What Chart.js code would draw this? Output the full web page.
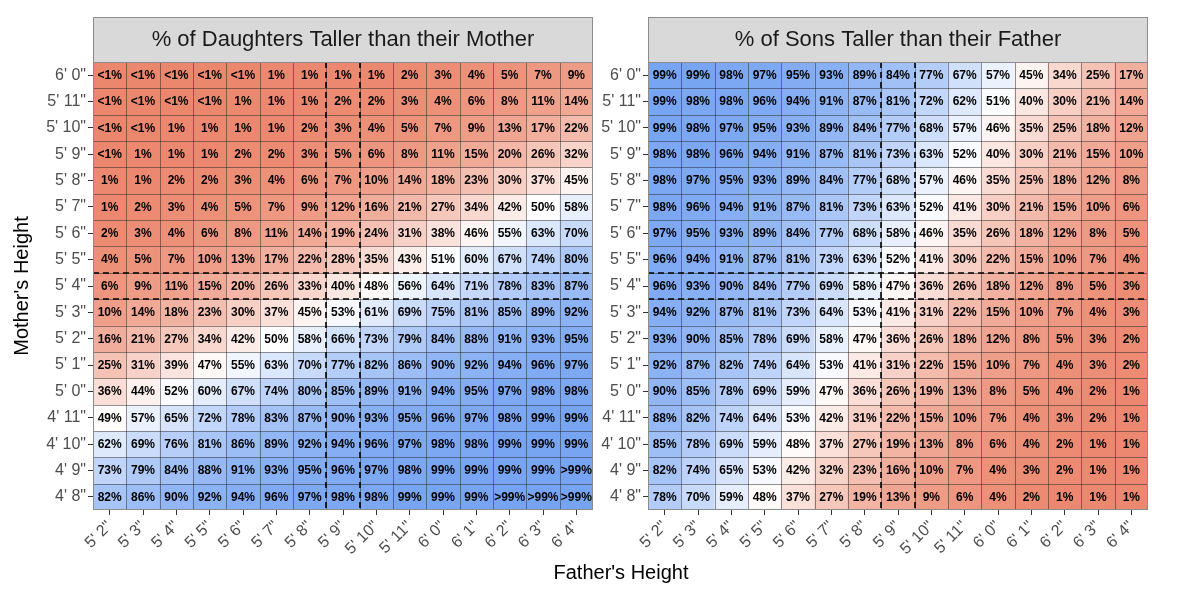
<!DOCTYPE html>
<html><head><meta charset="utf-8">
<script src="https://cdn.jsdelivr.net/npm/chart.js@4.4.1/dist/chart.umd.min.js"></script>
<style>
html,body{margin:0;padding:0;background:#fff;}
#wrap{position:relative;width:1200px;height:602px;overflow:hidden;font-family:'Liberation Sans',Arial,sans-serif;}
canvas{position:absolute;top:0;}
#xtitle{position:absolute;left:0;width:1242px;top:560px;line-height:24px;text-align:center;font-size:20px;color:#000;}
</style></head><body>
<div id="wrap">
<canvas id="c1" width="600" height="602" style="left:0"></canvas>
<canvas id="c2" width="600" height="602" style="left:600px"></canvas>
<div id="xtitle">Father's Height</div>
</div>
<script>
// ---- categories ----
const fatherHeights = ["5' 2\"","5' 3\"","5' 4\"","5' 5\"","5' 6\"","5' 7\"","5' 8\"","5' 9\"","5' 10\"","5' 11\"","6' 0\"","6' 1\"","6' 2\"","6' 3\"","6' 4\""];
// listed top to bottom as in the picture
const motherHeights = ["6' 0\"","5' 11\"","5' 10\"","5' 9\"","5' 8\"","5' 7\"","5' 6\"","5' 5\"","5' 4\"","5' 3\"","5' 2\"","5' 1\"","5' 0\"","4' 11\"","4' 10\"","4' 9\"","4' 8\""];
const avgFather = "5' 9\"";
const avgMother = "5' 4\"";
const panelTitles = ["% of Daughters Taller than their Mother", "% of Sons Taller than their Father"];

// ---- values (%); 0.5 means "<1%", 99.5 means ">99%" ----
const daughtersTaller = [
  [0.5,0.5,0.5,0.5,0.5,1,1,1,1,2,3,4,5,7,9],
  [0.5,0.5,0.5,0.5,1,1,1,2,2,3,4,6,8,11,14],
  [0.5,0.5,1,1,1,1,2,3,4,5,7,9,13,17,22],
  [0.5,1,1,1,2,2,3,5,6,8,11,15,20,26,32],
  [1,1,2,2,3,4,6,7,10,14,18,23,30,37,45],
  [1,2,3,4,5,7,9,12,16,21,27,34,42,50,58],
  [2,3,4,6,8,11,14,19,24,31,38,46,55,63,70],
  [4,5,7,10,13,17,22,28,35,43,51,60,67,74,80],
  [6,9,11,15,20,26,33,40,48,56,64,71,78,83,87],
  [10,14,18,23,30,37,45,53,61,69,75,81,85,89,92],
  [16,21,27,34,42,50,58,66,73,79,84,88,91,93,95],
  [25,31,39,47,55,63,70,77,82,86,90,92,94,96,97],
  [36,44,52,60,67,74,80,85,89,91,94,95,97,98,98],
  [49,57,65,72,78,83,87,90,93,95,96,97,98,99,99],
  [62,69,76,81,86,89,92,94,96,97,98,98,99,99,99],
  [73,79,84,88,91,93,95,96,97,98,99,99,99,99,99.5],
  [82,86,90,92,94,96,97,98,98,99,99,99,99.5,99.5,99.5]
];
const sonsTaller = [
  [99,99,98,97,95,93,89,84,77,67,57,45,34,25,17],
  [99,98,98,96,94,91,87,81,72,62,51,40,30,21,14],
  [99,98,97,95,93,89,84,77,68,57,46,35,25,18,12],
  [98,98,96,94,91,87,81,73,63,52,40,30,21,15,10],
  [98,97,95,93,89,84,77,68,57,46,35,25,18,12,8],
  [98,96,94,91,87,81,73,63,52,41,30,21,15,10,6],
  [97,95,93,89,84,77,68,58,46,35,26,18,12,8,5],
  [96,94,91,87,81,73,63,52,41,30,22,15,10,7,4],
  [96,93,90,84,77,69,58,47,36,26,18,12,8,5,3],
  [94,92,87,81,73,64,53,41,31,22,15,10,7,4,3],
  [93,90,85,78,69,58,47,36,26,18,12,8,5,3,2],
  [92,87,82,74,64,53,41,31,22,15,10,7,4,3,2],
  [90,85,78,69,59,47,36,26,19,13,8,5,4,2,1],
  [88,82,74,64,53,42,31,22,15,10,7,4,3,2,1],
  [85,78,69,59,48,37,27,19,13,8,6,4,2,1,1],
  [82,74,65,53,42,32,23,16,10,7,4,3,2,1,1],
  [78,70,59,48,37,27,19,13,9,6,4,2,1,1,1]
];

// ---- styles ----
const FONT = "'Liberation Sans', Arial, sans-serif";
Chart.defaults.font.family = FONT;
const LOW = [235,134,108], MID = [255,255,255], HIGH = [117,163,242];
function colorFor(v) {
  const t = v / 100;
  let a, b, s;
  if (t < 0.5) { a = LOW; b = MID; s = t / 0.5; } else { a = MID; b = HIGH; s = (t - 0.5) / 0.5; }
  const c = a.map((ai, i) => Math.round(ai + (b[i] - ai) * s));
  return `rgb(${c[0]},${c[1]},${c[2]})`;
}
function fmt(v) {
  if (v < 1) return '<1%';
  if (v > 99) return '>99%';
  return v + '%';
}

const heatPlugin = {
  id: 'heat',
  beforeDraw(chart) {
    const {ctx, chartArea: a} = chart;
    ctx.save();
    ctx.fillStyle = '#D9D9D9';
    ctx.fillRect(a.left, 17, a.right - a.left, a.top - 17);
    ctx.strokeStyle = '#8C8C8C';
    ctx.lineWidth = 1;
    ctx.strokeRect(a.left + 0.5, 17.5, a.right - a.left - 1, a.top - 17);
    ctx.restore();
  },
  afterDraw(chart) {
    const {ctx, chartArea: a, scales: {x, y}} = chart;
    const n = motherHeights.length;
    const nx = fatherHeights.length;
    const step = x.getPixelForValue(1) - x.getPixelForValue(0);
    ctx.save();
    // cell grid
    ctx.strokeStyle = 'rgba(40,40,40,0.5)';
    ctx.lineWidth = 1;
    ctx.beginPath();
    for (let i = 1; i < nx; i++) {
      const px = Math.round(x.getPixelForValue(i) - step / 2) + 0.5;
      ctx.moveTo(px, a.top); ctx.lineTo(px, a.bottom);
    }
    for (let j = 0; j < n - 1; j++) {
      const py = Math.round(y.getPixelForValue(j + 0.5)) + 0.5;
      ctx.moveTo(a.left, py); ctx.lineTo(a.right, py);
    }
    ctx.stroke();
    // values
    ctx.fillStyle = '#000';
    ctx.font = `bold 12px ${FONT}`;
    ctx.textAlign = 'center';
    ctx.textBaseline = 'middle';
    chart.data.datasets.forEach((ds, di) => {
      const meta = chart.getDatasetMeta(di);
      meta.data.forEach((bar, k) => {
        const p = bar.getCenterPoint();
        ctx.fillText(fmt(ds.values[k]), p.x, p.y + 0.5);
      });
    });
    // dashed average lines
    ctx.strokeStyle = '#000';
    ctx.lineWidth = 1.6;
    ctx.setLineDash([6, 4]);
    const fi = fatherHeights.indexOf(avgFather);
    const mi = n - 1 - motherHeights.indexOf(avgMother);
    ctx.beginPath();
    [fi - 0.5, fi + 0.5].forEach(v => {
      const px = Math.round(x.getPixelForValue(fi) + (v - fi) * step);
      ctx.moveTo(px, a.top); ctx.lineTo(px, a.bottom);
    });
    [mi - 0.5, mi + 0.5].forEach(v => {
      const py = Math.round(y.getPixelForValue(v));
      ctx.moveTo(a.left, py); ctx.lineTo(a.right, py);
    });
    ctx.stroke();
    ctx.setLineDash([]);
    // panel border
    ctx.strokeStyle = '#8C8C8C';
    ctx.lineWidth = 1;
    ctx.strokeRect(a.left + 0.5, a.top + 0.5, a.right - a.left - 1, a.bottom - a.top - 1);
    ctx.restore();
  }
};

function makeChart(id, title, rows, yWidth, rightPad, showYTitle) {
  const n = motherHeights.length;
  const datasets = rows.map((row, i) => {
    const yv = n - 1 - i;
    return {
      label: motherHeights[i],
      data: row.map(() => [yv - 0.5, yv + 0.5]),
      values: row,
      backgroundColor: row.map(colorFor),
      borderColor: row.map(colorFor),
      borderWidth: 0,
      borderSkipped: false,
      grouped: false,
      barPercentage: 1,
      categoryPercentage: 1
    };
  });
  return new Chart(document.getElementById(id), {
    type: 'bar',
    data: { labels: fatherHeights, datasets },
    options: {
      responsive: false,
      animation: false,
      events: [],
      layout: { padding: { left: 0, right: rightPad, top: 17, bottom: 0 } },
      plugins: {
        legend: { display: false },
        tooltip: { enabled: false },
        title: {
          display: true, text: title, fullSize: false, color: '#1A1A1A',
          font: { size: 22, weight: 'normal' }, padding: { top: 10, bottom: 8.6 }
        }
      },
      scales: {
        x: {
          type: 'category', offset: true,
          grid: { offset: false, drawOnChartArea: false, drawTicks: true, tickLength: 5, tickColor: '#333', tickWidth: 1 },
          border: { display: false },
          ticks: { color: '#4D4D4D', font: { size: 16 }, minRotation: 45, maxRotation: 45, autoSkip: false, padding: 2 },
          afterFit(s) { s.height = 92; s.paddingLeft = 0; s.paddingRight = 0; }
        },
        y: {
          type: 'linear', min: -0.5, max: n - 0.5,
          afterBuildTicks(s) { s.ticks = motherHeights.map((_, i) => ({ value: i })); },
          grid: { drawOnChartArea: false, drawTicks: true, tickLength: 5, tickColor: '#333', tickWidth: 1 },
          border: { display: false },
          ticks: { color: '#4D4D4D', font: { size: 16 }, autoSkip: false, padding: 2,
                   callback: (v) => motherHeights[n - 1 - v] },
          title: { display: showYTitle, text: "Mother's Height", color: '#000', font: { size: 20 }, padding: { top: 10, bottom: 0 } },
          afterFit(s) { s.width = yWidth; s.paddingTop = 0; s.paddingBottom = 0; }
        }
      }
    },
    plugins: [heatPlugin]
  });
}

makeChart('c1', panelTitles[0], daughtersTaller, 93, 7, true);
makeChart('c2', panelTitles[1], sonsTaller, 48, 52, false);
</script>
</body></html>
